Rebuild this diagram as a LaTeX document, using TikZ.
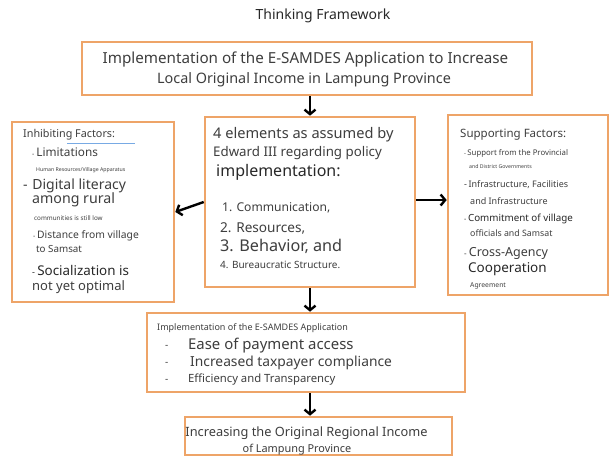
\documentclass[tikz,border=0pt]{standalone}
\usepackage{fontspec}
\setmainfont{Noto Sans}
\usetikzlibrary{arrows.meta}
\definecolor{frame}{RGB}{238,164,104}
\definecolor{ink}{RGB}{62,62,62}
\definecolor{inkdark}{RGB}{40,40,40}
\definecolor{squiggle}{RGB}{120,170,228}
\newcommand{\fs}[1]{\fontsize{#1}{#1}\selectfont}
\tikzset{
  fbox/.style={draw=frame, line width=2.6pt, fill=white, inner sep=0pt},
  txt/.style={anchor=west, inner sep=0pt, text=ink},
  ctxt/.style={anchor=center, inner sep=0pt, text=ink},
  arr/.style={line width=2.4pt, -{Straight Barb[length=4.5pt,width=11pt]}}
}
\begin{document}
\begin{tikzpicture}[x=1pt, y=-1pt]
\useasboundingbox[fill=white] (0,0) rectangle (611,466);

% title
\node[ctxt, text=inkdark] (title) at (323,16) {\fs{14}Thinking Framework};

% boxes
\node[fbox, minimum width=450pt, minimum height=53pt] (top) at (307,68.5) {};
\node[fbox, minimum width=162pt, minimum height=180pt] (left) at (93,212) {};
\node[fbox, minimum width=210pt, minimum height=170pt] (cen) at (310,202) {};
\node[fbox, minimum width=160pt, minimum height=180pt] (right) at (528,205) {};
\node[fbox, minimum width=318pt, minimum height=79pt] (mid) at (306,352.5) {};
\node[fbox, minimum width=267pt, minimum height=38pt] (bot) at (318.5,436) {};

% top box text
\node[ctxt] (top1) at (305.5,60) {\fs{15.2}Implementation of the E-SAMDES Application to Increase};
\node[ctxt] (top2) at (304,80) {\fs{14.4}Local Original Income in Lampung Province};

% central box text
\node[txt] (c1) at (213,135) {\fs{14.6}4 elements as assumed by};
\node[txt] (c2) at (213,153) {\fs{13.3}Edward III regarding policy};
\node[txt, text=inkdark] (c3) at (216,172) {\fs{16}implementation:};
\node[txt] (c4) at (222,208) {\fs{12.1}1. Communication,};
\node[txt] (c5) at (220,228) {\fs{13.6}2. Resources,};
\node[txt] (c6) at (220,246) {\fs{16.2}3. Behavior, and};
\node[txt] (c7) at (220,265) {\fs{10}4. Bureaucratic Structure.};

% inhibiting factors
\node[txt] (l0) at (23,135) {\fs{10.8}Inhibiting Factors:};
\draw[squiggle, line width=0.9pt] (l0.south) ++(-2,2.5) coordinate (sq1) -- ++(68,0) coordinate (sq2);
\node[txt] (l1) at (32,152) {\fs{11.8}{\fs{7}-}\,Limitations};
\node[txt] (l2) at (36,170) {\fs{5.2}Human Resources/Village Apparatus};
\node[txt] (l3) at (23,186) {\fs{14}-\,\,Digital literacy};
\node[txt] (l4) at (32,200) {\fs{14.2}among rural};
\node[txt] (l5) at (34,218) {\fs{6.3}communities is still low};
\node[txt] (l6) at (33,236) {\fs{10.3}{\fs{7}-}\,Distance from village};
\node[txt] (l7) at (36,249) {\fs{9.8}to Samsat};
\node[txt, text=inkdark] (l8) at (32,270) {\fs{13.4}{\fs{9}-}\,Socialization is};
\node[txt] (l9) at (32,287) {\fs{13}not yet optimal};

% supporting factors
\node[txt] (r0) at (460,135) {\fs{11.5}Supporting Factors:};
\node[txt] (r1) at (464,153) {\fs{7.8}{\fs{6}-}\,Support from the Provincial};
\node[txt] (r2) at (469,167) {\fs{5.2}and District Governments};
\node[txt] (r3) at (464,185) {\fs{9}-\,Infrastructure, Facilities};
\node[txt] (r4) at (470,201) {\fs{9}and Infrastructure};
\node[txt, text=inkdark] (r5) at (464,219) {\fs{9.8}{\fs{7}-}\,Commitment of village};
\node[txt] (r6) at (470,233) {\fs{8.8}officials and Samsat};
\node[txt] (r7) at (464,253) {\fs{12.5}{\fs{8}-}\,Cross-Agency};
\node[txt, text=inkdark] (r8) at (468,269) {\fs{13.5}Cooperation};
\node[txt] (r9) at (470,286) {\fs{6.8}Agreement};

% implementation box text
\node[txt] (m0) at (157,328) {\fs{9}Implementation of the E-SAMDES Application};
\node[txt] (md1) at (165,347) {\fs{10}-};
\node[txt] (md2) at (165,364) {\fs{10}-};
\node[txt] (md3) at (165,381) {\fs{10}-};
\node[txt] (m1) at (188,346) {\fs{14.9}Ease of payment access};
\node[txt] (m2) at (190,363) {\fs{13.8}Increased taxpayer compliance};
\node[txt] (m3) at (188,380) {\fs{11.3}Efficiency and Transparency};

% result box text
\node[ctxt] (b1) at (306.5,433) {\fs{12.8}Increasing the Original Regional Income};
\node[ctxt] (b2) at (297,450) {\fs{10.9}of Lampung Province};

% connectors
\draw[arr] (top.south -| cen.north) -- (cen.north);
\draw[arr] (cen.west) -- (left.east);
\draw[arr] (cen.east) ++(0,-2) coordinate (ce) -- (ce -| right.west);
\draw[arr] (cen.south) -- (cen.south |- mid.north);
\draw[arr] (mid.south -| cen.south) -- (cen.south |- bot.north);
\end{tikzpicture}
\end{document}
